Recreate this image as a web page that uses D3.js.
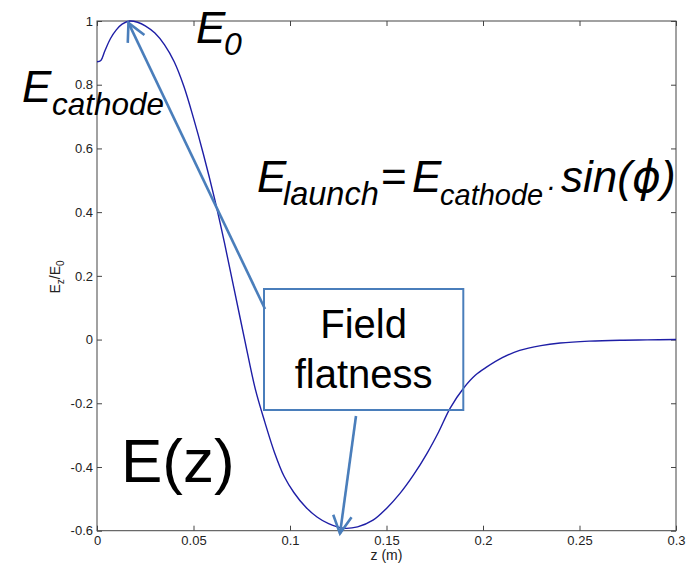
<!DOCTYPE html>
<html>
<head>
<meta charset="utf-8">
<script src="https://d3js.org/d3.v7.min.js"></script>
<style>
  html, body { margin: 0; padding: 0; background: #fff; }
  svg { display: block; }
  text { font-family: "Liberation Sans", Arial, sans-serif; }
</style>
</head>
<body>
<svg id="chart" width="687" height="567"></svg>
<script>
// ---- data ----
const zValues = [0, 0.002, 0.004, 0.007, 0.010, 0.013, 0.017, 0.021, 0.025, 0.030, 0.035, 0.040, 0.045, 0.050, 0.055, 0.061, 0.066, 0.071, 0.0765, 0.082, 0.087, 0.092, 0.097, 0.102, 0.108, 0.114, 0.120, 0.1275, 0.135, 0.143, 0.150, 0.157, 0.164, 0.171, 0.177, 0.183, 0.190, 0.196, 0.202, 0.210, 0.219, 0.230, 0.240, 0.255, 0.271, 0.285, 0.300];
const eValues = [0.872, 0.876, 0.905, 0.945, 0.972, 0.990, 1.000, 0.996, 0.985, 0.962, 0.925, 0.872, 0.795, 0.695, 0.585, 0.440, 0.305, 0.160, 0.000, -0.155, -0.260, -0.355, -0.430, -0.480, -0.525, -0.557, -0.578, -0.592, -0.588, -0.567, -0.530, -0.483, -0.425, -0.357, -0.290, -0.215, -0.152, -0.112, -0.086, -0.057, -0.034, -0.019, -0.011, -0.005, -0.002, -0.001, 0.000];
const xTicks = [0, 0.05, 0.1, 0.15, 0.2, 0.25, 0.3];
const xTickLabels = ["0", "0.05", "0.1", "0.15", "0.2", "0.25", "0.3"];
const yTicks = [-0.6, -0.4, -0.2, 0, 0.2, 0.4, 0.6, 0.8, 1];
const yTickLabels = ["-0.6", "-0.4", "-0.2", "0", "0.2", "0.4", "0.6", "0.8", "1"];
// annotation anchor points in data coordinates: peak (E0) and minimum
const peakPoint = [0.0163, 0.994];
const minPoint = [0.1259, -0.609];

// ---- layout ----
const svg = d3.select("#chart");
const pL = 97, pR = 676, pT = 21, pB = 530.7;
const x = d3.scaleLinear().domain([0, 0.3]).range([pL, pR]);
const y = d3.scaleLinear().domain([-0.6, 1]).range([pB, pT]);
const axisColor = "#444";
const annColor = "#4a7ebb";

// axes
const fmtX = d => xTickLabels[xTicks.indexOf(d)];
const fmtY = d => yTickLabels[yTicks.indexOf(d)];

const gB = svg.append("g").attr("transform", `translate(0,${pB})`)
  .call(d3.axisBottom(x).tickValues(xTicks).tickFormat(fmtX).tickSize(-5).tickPadding(5.5));
const gL = svg.append("g").attr("transform", `translate(${pL},0)`)
  .call(d3.axisLeft(y).tickValues(yTicks).tickFormat(fmtY).tickSize(-5).tickPadding(4));
const gT = svg.append("g").attr("transform", `translate(0,${pT})`)
  .call(d3.axisTop(x).tickValues(xTicks).tickFormat("").tickSize(-5));
const gR = svg.append("g").attr("transform", `translate(${pR},0)`)
  .call(d3.axisRight(y).tickValues(yTicks).tickFormat("").tickSize(-5));
[gB, gL, gT, gR].forEach(g => {
  g.select(".domain").remove();
  g.selectAll(".tick line").attr("stroke", axisColor).attr("stroke-width", 1);
  g.selectAll(".tick text").attr("fill", "#222").style("font-size", "13px")
    .style("font-family", '"Liberation Sans", Arial, sans-serif');
});

svg.append("rect")
  .attr("x", pL).attr("y", pT)
  .attr("width", pR - pL).attr("height", pB - pT)
  .attr("fill", "none").attr("stroke", axisColor).attr("stroke-width", 1);

// axis labels
svg.append("text")
  .attr("x", (pL + pR) / 2).attr("y", 560)
  .attr("text-anchor", "middle").style("font-size", "14px").attr("fill", "#222")
  .text("z (m)");

const yl = svg.append("text")
  .attr("transform", "translate(60,277) rotate(-90)")
  .attr("text-anchor", "middle").style("font-size", "14px").attr("fill", "#222");
yl.append("tspan").text("E");
yl.append("tspan").attr("dy", 4).style("font-size", "10px").text("z");
yl.append("tspan").attr("dy", -4).text("/E");
yl.append("tspan").attr("dy", 4).style("font-size", "10px").text("0");

// curve
const data = zValues.map((z, i) => [z, eValues[i]]);
svg.append("path")
  .datum(data)
  .attr("fill", "none")
  .attr("stroke", "#1e1ea6")
  .attr("stroke-width", 1.4)
  .attr("d", d3.line().x(d => x(d[0])).y(d => y(d[1])).curve(d3.curveCatmullRom.alpha(0.5)));

// annotation box
const box = { x0: 264, y0: 289, x1: 463.3, y1: 410 };
svg.append("rect")
  .attr("x", box.x0).attr("y", box.y0)
  .attr("width", box.x1 - box.x0).attr("height", box.y1 - box.y0)
  .attr("fill", "none").attr("stroke", annColor).attr("stroke-width", 2);
const cx = (box.x0 + box.x1) / 2;
svg.append("text").attr("x", cx).attr("y", 338).attr("text-anchor", "middle")
  .style("font-size", "40px").attr("fill", "#000").text("Field");
svg.append("text").attr("x", cx).attr("y", 388).attr("text-anchor", "middle")
  .style("font-size", "40px").attr("fill", "#000").text("flatness");

// arrows
function arrow(x1, y1, x2, y2) {
  svg.append("line").attr("x1", x1).attr("y1", y1).attr("x2", x2).attr("y2", y2)
    .attr("stroke", annColor).attr("stroke-width", 2.6);
  const ang = Math.atan2(y1 - y2, x1 - x2);
  const L = 20, a = 0.48;
  const p = d3.path();
  p.moveTo(x2 + L * Math.cos(ang + a), y2 + L * Math.sin(ang + a));
  p.lineTo(x2, y2);
  p.lineTo(x2 + L * Math.cos(ang - a), y2 + L * Math.sin(ang - a));
  svg.append("path").attr("d", p.toString()).attr("fill", "none")
    .attr("stroke", annColor).attr("stroke-width", 2.6).attr("stroke-linejoin", "miter");
}
arrow(265, 309, x(peakPoint[0]), y(peakPoint[1]));
arrow(356, 416, x(minPoint[0]), y(minPoint[1]));

// big text annotations
const big = "44px", sub = "32px";
const t0 = svg.append("text").style("font-style", "italic").attr("fill", "#000");
t0.append("tspan").attr("x", 196).attr("y", 42.7).style("font-size", big).text("E");
t0.append("tspan").attr("x", 224).attr("y", 55).style("font-size", sub).text("0");

const tc = svg.append("text").style("font-style", "italic").attr("fill", "#000");
tc.append("tspan").attr("x", 22).attr("y", 101.7).style("font-size", big).text("E");
tc.append("tspan").attr("x", 52).attr("y", 115).style("font-size", "31.5px").text("cathode");

const tl = svg.append("text").style("font-style", "italic").attr("fill", "#000");
tl.append("tspan").attr("x", 257).attr("y", 191.7).style("font-size", big).text("E");
tl.append("tspan").attr("x", 283).attr("y", 205).style("font-size", "32.5px").text("launch");
tl.append("tspan").attr("x", 381).attr("y", 191.7).style("font-size", big).style("font-style", "normal").text("=");
tl.append("tspan").attr("x", 412).attr("y", 191.7).style("font-size", big).text("E");
tl.append("tspan").attr("x", 440).attr("y", 205).style("font-size", "29px").text("cathode");
tl.append("tspan").attr("x", 546).attr("y", 196).style("font-size", "29px").text("\u00B7");
tl.append("tspan").attr("x", 561).attr("y", 191.7).style("font-size", big).text("sin(");
tl.append("tspan").style("font-size", big).style("font-family", '"DejaVu Sans", sans-serif').text("\u03D5");
tl.append("tspan").style("font-size", big).text(")");

svg.append("text").attr("x", 121).attr("y", 481.7)
  .style("font-size", "62px").attr("fill", "#000").text("E(z)");
</script>
</body>
</html>
